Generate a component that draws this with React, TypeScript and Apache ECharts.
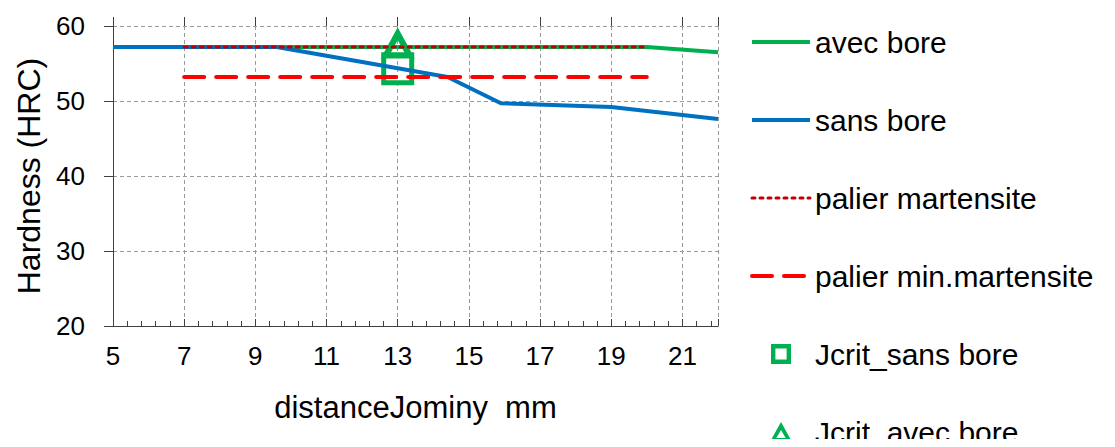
import React, { useEffect, useRef } from "react";
import * as echarts from "echarts";

const avecBore: [number, number][] = [
  [5, 57.2], [9.6, 57.2], [13, 57.2], [15, 57.2], [20, 57.2], [22, 56.5],
];
const sansBore: [number, number][] = [
  [5, 57.2], [9.6, 57.2], [14.4, 53.2], [15.9, 49.7], [19, 49.2], [22, 47.6],
];
const palierMartensite: [number, number][] = [[7, 57.2], [20, 57.2]];
const palierMinMartensite: [number, number][] = [[7, 53.2], [20, 53.2]];
const jcritSansBore: [number, number][] = [[13, 54.3]];
const jcritAvecBore: [number, number][] = [[13, 57.5]];

const FONT = "Liberation Sans, Arial, sans-serif";
const GREEN = "#00b050";
const BLUE = "#0070c0";
const DARK_RED = "#c00000";
const RED = "#ff0000";

const SQUARE_ICON = "path://M0,0 H10 V10 H0 Z M2.2,2.2 V7.8 H7.8 V2.2 Z";
const TRIANGLE_ICON = "path://M5,0 L10,9 H0 Z M5,3.6 L2.9,7.2 H7.1 Z";

export default function App() {
  const ref = useRef<HTMLDivElement>(null);
  useEffect(() => {
    if (!ref.current) return;
    const chart = echarts.init(ref.current, null, { renderer: "svg" });
    const axisColor = "#404040";
    const hiddenSymbol = { opacity: 0 };
    chart.setOption({
      animation: false,
      textStyle: { fontFamily: FONT },
      grid: { left: 113, right: 397, top: 26, bottom: 121, containLabel: false },
      legend: {
        orient: "vertical",
        left: 750,
        top: 27,
        height: 420,
        padding: 0,
        itemWidth: 58,
        itemHeight: 20,
        itemGap: 48,
        textStyle: { fontSize: 30, color: "#000", fontFamily: FONT, lineHeight: 30 },
        data: [
          { name: "avec bore", itemStyle: hiddenSymbol, lineStyle: { width: 4, color: GREEN } },
          { name: "sans bore", itemStyle: hiddenSymbol, lineStyle: { width: 4, color: BLUE } },
          { name: "palier martensite", itemStyle: hiddenSymbol, lineStyle: { width: 3, color: DARK_RED } },
          { name: "palier min.martensite", itemStyle: hiddenSymbol, lineStyle: { width: 4, color: RED } },
          { name: "Jcrit_sans bore", icon: SQUARE_ICON, itemStyle: { color: GREEN, borderWidth: 0, opacity: 1 } },
          { name: "Jcrit_avec bore", icon: TRIANGLE_ICON, itemStyle: { color: GREEN, borderWidth: 0, opacity: 1 } },
        ],
      },
      xAxis: [
        {
          type: "value",
          min: 5,
          max: 22,
          interval: 2,
          name: "distanceJominy  mm",
          nameLocation: "middle",
          nameGap: 66,
          nameTextStyle: { fontSize: 31, color: "#000", fontFamily: FONT },
          axisLine: { show: true, lineStyle: { color: axisColor, width: 1 } },
          axisTick: { show: true, inside: true, length: 7, lineStyle: { color: axisColor } },
          minorTick: { show: true, splitNumber: 5, length: 5, lineStyle: { color: axisColor } },
          splitLine: { show: true, lineStyle: { color: "#9a9a9a", type: [4, 3], width: 1 } },
          axisLabel: { fontSize: 26, color: "#000", margin: 17, showMaxLabel: false, fontFamily: FONT },
        },
        {
          type: "value",
          min: 5,
          max: 22,
          interval: 2,
          axisLine: { show: false },
          axisTick: { show: true, inside: false, length: 9, lineStyle: { color: axisColor } },
          splitLine: { show: false },
          axisLabel: { show: false },
        },
      ],
      yAxis: {
        type: "value",
        min: 20,
        max: 60,
        interval: 10,
        name: "Hardness (HRC)",
        nameLocation: "middle",
        nameGap: 68,
        nameTextStyle: { fontSize: 32, color: "#000", fontFamily: FONT },
        axisLine: { show: true, lineStyle: { color: axisColor, width: 1 } },
        axisTick: { show: true, inside: false, length: 9, lineStyle: { color: axisColor } },
        splitLine: { show: true, lineStyle: { color: "#9a9a9a", type: [4, 3], width: 1 } },
        axisLabel: { fontSize: 26, color: "#000", margin: 28, fontFamily: FONT },
      },
      series: [
        {
          name: "avec bore",
          type: "line",
          data: avecBore,
          symbol: "none",
          lineStyle: { color: GREEN, width: 4 },
          itemStyle: { color: GREEN },
        },
        {
          name: "sans bore",
          type: "line",
          data: sansBore,
          symbol: "none",
          lineStyle: { color: BLUE, width: 4 },
          itemStyle: { color: BLUE },
        },
        {
          name: "palier martensite",
          type: "line",
          data: palierMartensite,
          symbol: "none",
          lineStyle: { color: DARK_RED, width: 3, type: [3, 5], cap: "round" },
          itemStyle: { color: DARK_RED },
        },
        {
          name: "palier min.martensite",
          type: "line",
          data: palierMinMartensite,
          symbol: "none",
          lineStyle: { color: RED, width: 4, type: [20, 12], cap: "round" },
          itemStyle: { color: RED },
        },
        {
          name: "Jcrit_sans bore",
          type: "scatter",
          data: jcritSansBore,
          symbol: "rect",
          symbolSize: 28,
          itemStyle: { color: "rgba(255,255,255,0)", borderColor: GREEN, borderWidth: 5, opacity: 1 },
        },
        {
          name: "Jcrit_avec bore",
          type: "scatter",
          data: jcritAvecBore,
          symbol: "triangle",
          symbolSize: [24, 22],
          itemStyle: { color: "rgba(255,255,255,0)", borderColor: GREEN, borderWidth: 6, opacity: 1 },
        },
      ],
    });
    return () => chart.dispose();
  }, []);
  return <div ref={ref} style={{ width: 1115, height: 447, margin: -8 }} />;
}
